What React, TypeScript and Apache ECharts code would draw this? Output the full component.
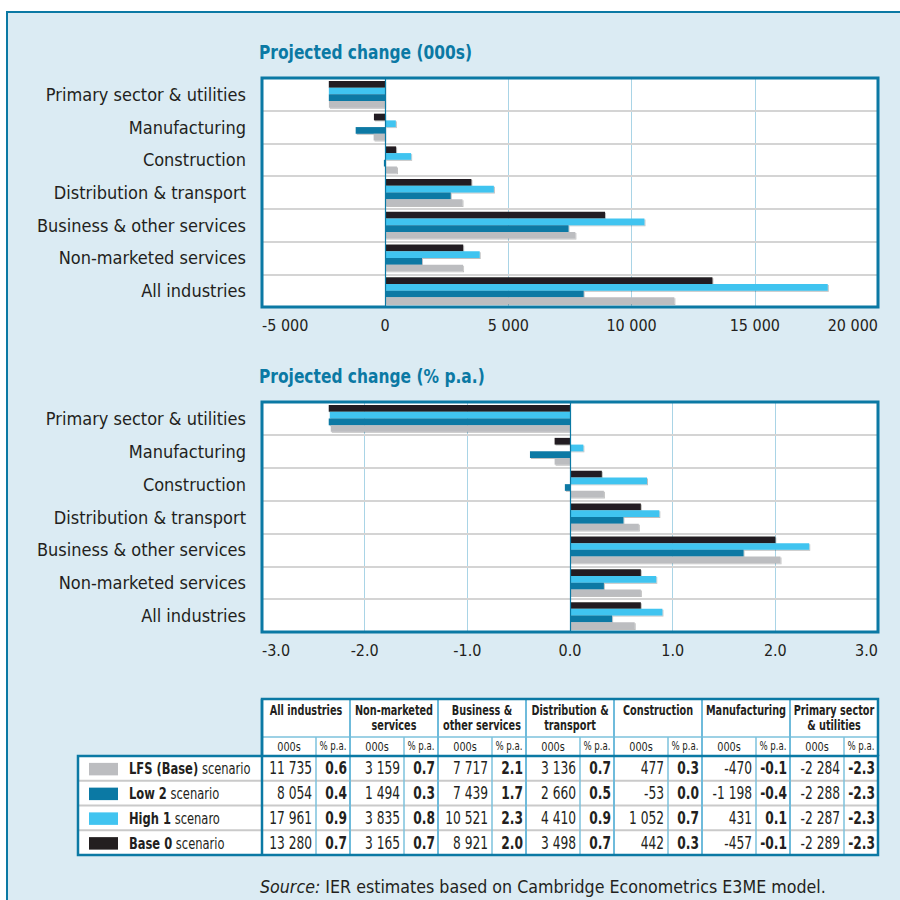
import React, { useEffect, useRef } from "react";
import * as echarts from "echarts";

const categories = [
  "Primary sector & utilities",
  "Manufacturing",
  "Construction",
  "Distribution & transport",
  "Business & other services",
  "Non-marketed services",
  "All industries",
];

// Projected change (000s), in category order
const lfsK = [-2284, -470, 477, 3136, 7717, 3159, 11735];
const low2K = [-2288, -1198, -53, 2660, 7439, 1494, 8054];
const high1K = [-2287, 431, 1052, 4410, 10521, 3835, 17961];
const base0K = [-2289, -457, 442, 3498, 8921, 3165, 13280];

// Projected change (% p.a.) as drawn in the bars, in category order
const base0Pct = [-2.35, -0.15, 0.31, 0.69, 2.0, 0.69, 0.69];
const high1Pct = [-2.34, 0.13, 0.75, 0.87, 2.33, 0.84, 0.9];
const low2Pct = [-2.35, -0.39, -0.05, 0.52, 1.69, 0.33, 0.41];
const lfsPct = [-2.33, -0.15, 0.33, 0.67, 2.05, 0.69, 0.63];

// Table (columns: All industries ... Primary sector)
const tableHeaders = [
  "All industries",
  "Non-marketed\nservices",
  "Business &\nother services",
  "Distribution &\ntransport",
  "Construction",
  "Manufacturing",
  "Primary sector\n& utilities",
];
const tableScenarioNames = ["LFS (Base)", "Low 2", "High 1", "Base 0"];
const tableScenarioSuffix = [" scenario", " scenario", " scenaro", " scenario"];
const tablePctLfs = [0.6, 0.7, 2.1, 0.7, 0.3, -0.1, -2.3];
const tablePctLow2 = [0.4, 0.3, 1.7, 0.5, 0.0, -0.4, -2.3];
const tablePctHigh1 = [0.9, 0.8, 2.3, 0.9, 0.7, 0.1, -2.3];
const tablePctBase0 = [0.7, 0.7, 2.0, 0.7, 0.3, -0.1, -2.3];

const titles = ["Projected change (000s)", "Projected change (% p.a.)"];
const xTicks1 = { min: -5000, max: 20000, interval: 5000 };
const xTicks2 = { min: -3, max: 3, interval: 1 };

const TEAL = "#0b79a4";
const BLACK = "#231f20";
const LBLUE = "#41c4f0";
const GREY = "#bcbdc0";
const BG = "#dbebf3";
const GRIDBLUE = "#a9d4e6";
const ROWGREY = "#d4d4d4";
const FONT = '"Liberation Sans Narrow", "Arial Narrow", "DejaVu Sans Condensed", sans-serif';
const NARROW = 0.8;

const fmtK = (v: number) => {
  const s = Math.abs(Math.round(v)).toString().replace(/\B(?=(\d{3})+(?!\d))/g, " ");
  return (v < 0 ? "-" : "") + s;
};

export default function App() {
  const ref = useRef<HTMLDivElement>(null);
  useEffect(() => {
    if (!ref.current) return;
    const chart = echarts.init(ref.current, undefined, { renderer: "svg", width: 900, height: 900 });

    const grids = [
      { left: 262, top: 78, width: 616, height: 229 },
      { left: 262, top: 402, width: 616, height: 230 },
    ];

    const seriesDefs = [
      { name: "Base 0", color: BLACK, k: base0K, p: base0Pct },
      { name: "High 1", color: LBLUE, k: high1K, p: high1Pct },
      { name: "Low 2", color: TEAL, k: low2K, p: low2Pct },
      { name: "LFS (Base)", color: GREY, k: lfsK, p: lfsPct },
    ];

    const series: any[] = [];
    [0, 1].forEach((gi) => {
      seriesDefs.forEach((s) => {
        series.push({
          type: "bar",
          name: s.name,
          xAxisIndex: gi,
          yAxisIndex: gi,
          data: gi === 0 ? s.k : s.p,
          barWidth: 6.7,
          barGap: "0%",
          itemStyle: {
            color: s.color,
            shadowColor: "rgba(0,0,0,0.25)",
            shadowOffsetX: 1,
            shadowOffsetY: 1,
            shadowBlur: 0,
          },
        });
      });
    });

    const xAxisBase = (gi: number, t: any, fmt: (v: number) => string) => ({
      type: "value",
      gridIndex: gi,
      min: t.min,
      max: t.max,
      interval: t.interval,
      axisLine: { show: false },
      axisTick: { show: false },
      splitLine: { show: true, lineStyle: { color: GRIDBLUE, width: 1 } },
      axisLabel: {
        formatter: fmt,
        fontFamily: FONT,
        fontSize: 16,
        color: BLACK,
        margin: 10,
        alignMinLabel: "left",
        alignMaxLabel: "right",
      },
    });

    const yAxisBase = (gi: number) => ({
      type: "category",
      gridIndex: gi,
      data: categories,
      inverse: true,
      axisLine: { show: true, onZero: true, lineStyle: { color: TEAL, width: 1.2 } },
      axisTick: { show: false },
      splitLine: { show: true, lineStyle: { color: ROWGREY, width: 2 } },
      axisLabel: { fontFamily: FONT, fontSize: 18, color: BLACK, margin: 16 },
      z: 3,
    });

    const g: any[] = [];
    // titles
    titles.forEach((t, i) => {
      g.push({
        type: "text", z: 5, x: 259, y: i === 0 ? 52 : 376, scaleX: 0.86,
        style: { text: t, fontFamily: FONT, fontSize: 20, fontWeight: "bold", fill: TEAL, verticalAlign: "middle" },
      });
    });

    // plot frames on top
    grids.forEach((gr) => {
      g.push({
        type: "rect",
        z: 100,
        shape: { x: gr.left, y: gr.top, width: gr.width, height: gr.height },
        style: { fill: null, stroke: TEAL, lineWidth: 3 },
      });
    });

    // Table
    const tLeft = 78, tCol = 262, tRight = 878, tTop = 699, tH1 = 737, tH2 = 756, rowH = 24.75;
    const groupW = 88, subW = 54;
    const tBottom = tH2 + rowH * 4;
    const gx = (i: number) => tCol + i * groupW;

    g.push({ type: "rect", z: 1, shape: { x: tCol, y: tTop, width: tRight - tCol, height: tH2 - tTop }, style: { fill: "#fff" } });
    g.push({ type: "rect", z: 1, shape: { x: tLeft, y: tH2, width: tRight - tLeft, height: tBottom - tH2 }, style: { fill: "#fff" } });
    for (let r = 1; r < 4; r++) {
      g.push({ type: "line", z: 2, shape: { x1: tLeft, y1: tH2 + r * rowH, x2: tRight, y2: tH2 + r * rowH }, style: { stroke: "#cacaca", lineWidth: 2 } });
    }
    g.push({ type: "line", z: 2, shape: { x1: tCol, y1: tH1, x2: tRight, y2: tH1 }, style: { stroke: "#7dc2dd", lineWidth: 1.5 } });
    for (let i = 0; i < 7; i++) {
      if (i > 0) g.push({ type: "line", z: 2, shape: { x1: gx(i), y1: tTop, x2: gx(i), y2: tBottom }, style: { stroke: "#6fbbdb", lineWidth: 2 } });
      g.push({ type: "line", z: 2, shape: { x1: gx(i) + subW, y1: tH1, x2: gx(i) + subW, y2: tBottom }, style: { stroke: "#7dc2dd", lineWidth: 1.5 } });
    }
    g.push({ type: "polyline", z: 3, shape: { points: [[tCol, tH2], [tCol, tTop], [tRight, tTop], [tRight, tH2]] }, style: { fill: null, stroke: TEAL, lineWidth: 2.5 } });
    g.push({ type: "rect", z: 3, shape: { x: tLeft, y: tH2, width: tRight - tLeft, height: tBottom - tH2 }, style: { fill: null, stroke: TEAL, lineWidth: 2.5 } });
    g.push({ type: "line", z: 3, shape: { x1: tCol, y1: tTop, x2: tCol, y2: tBottom }, style: { stroke: TEAL, lineWidth: 2.5 } });

    tableHeaders.forEach((h, i) => {
      g.push({
        type: "text", z: 4, x: gx(i) + groupW / 2, y: tTop + 4, scaleX: NARROW,
        style: { text: h, fontFamily: FONT, fontSize: 13.5, fontWeight: "bold", fill: BLACK, align: "center", verticalAlign: "top", lineHeight: 15 },
      });
      g.push({
        type: "text", z: 4, x: gx(i) + subW / 2, y: (tH1 + tH2) / 2, scaleX: 0.9,
        style: { text: "000s", fontFamily: FONT, fontSize: 12, fill: BLACK, align: "center", verticalAlign: "middle" },
      });
      g.push({
        type: "text", z: 4, x: gx(i) + subW + (groupW - subW) / 2, y: (tH1 + tH2) / 2, scaleX: 0.8,
        style: { text: "% p.a.", fontFamily: FONT, fontSize: 12, fill: BLACK, align: "center", verticalAlign: "middle" },
      });
    });

    const rowsK = [lfsK, low2K, high1K, base0K].map((a) => a.slice().reverse());
    const rowsP = [tablePctLfs, tablePctLow2, tablePctHigh1, tablePctBase0];
    const rowColors = [GREY, TEAL, LBLUE, BLACK];
    for (let r = 0; r < 4; r++) {
      const cy = tH2 + rowH * r + rowH / 2 + 0.5;
      g.push({ type: "rect", z: 4, shape: { x: 89, y: cy - 6, width: 29, height: 12.5 }, style: { fill: rowColors[r] } });
      g.push({
        type: "text", z: 4, x: 129, y: cy, scaleX: NARROW,
        style: {
          text: `{b|${tableScenarioNames[r]}}{r|${tableScenarioSuffix[r]}}`,
          verticalAlign: "middle",
          rich: {
            b: { fontFamily: FONT, fontSize: 16, fontWeight: "bold", fill: BLACK, color: BLACK },
            r: { fontFamily: FONT, fontSize: 16, fill: BLACK, color: BLACK },
          },
        },
      });
      for (let i = 0; i < 7; i++) {
        g.push({
          type: "text", z: 4, x: gx(i) + subW - 4, y: cy, scaleX: NARROW,
          style: { text: fmtK(rowsK[r][i]), fontFamily: FONT, fontSize: 17, fill: BLACK, align: "right", verticalAlign: "middle" },
        });
        g.push({
          type: "text", z: 4, x: gx(i) + groupW - 3, y: cy, scaleX: NARROW,
          style: { text: rowsP[r][i].toFixed(1), fontFamily: FONT, fontSize: 17, fontWeight: "bold", fill: BLACK, align: "right", verticalAlign: "middle" },
        });
      }
    }

    g.push({
      type: "text", z: 4, x: 260, y: 886, scaleX: 0.955,
      style: {
        text: "{i|Source:}{r| IER estimates based on Cambridge Econometrics E3ME model.}",
        verticalAlign: "middle",
        rich: {
          i: { fontFamily: FONT, fontSize: 18.5, fontStyle: "italic", fill: BLACK, color: BLACK },
          r: { fontFamily: FONT, fontSize: 18.5, fill: BLACK, color: BLACK },
        },
      },
    });

    chart.setOption({
      animation: false,
      backgroundColor: "transparent",
      grid: grids.map((gr) => ({ ...gr, show: true, backgroundColor: "#fff", borderWidth: 0, containLabel: false })),
      xAxis: [xAxisBase(0, xTicks1, fmtK), xAxisBase(1, xTicks2, (v: number) => v.toFixed(1))],
      yAxis: [yAxisBase(0), yAxisBase(1)],
      series,
      graphic: g,
    });
    return () => chart.dispose();
  }, []);

  return (
    <div style={{ position: "absolute", left: 0, top: 0, width: 900, height: 900, background: "#fff", overflow: "hidden" }}>
      <div
        style={{
          position: "absolute", left: 6, top: 11, width: 900, height: 900, boxSizing: "border-box",
          background: BG, borderTop: `2.5px solid ${TEAL}`, borderLeft: `2.5px solid ${TEAL}`,
        }}
      />
      <div ref={ref} style={{ position: "absolute", left: 0, top: 0, width: 900, height: 900 }} />
    </div>
  );
}
